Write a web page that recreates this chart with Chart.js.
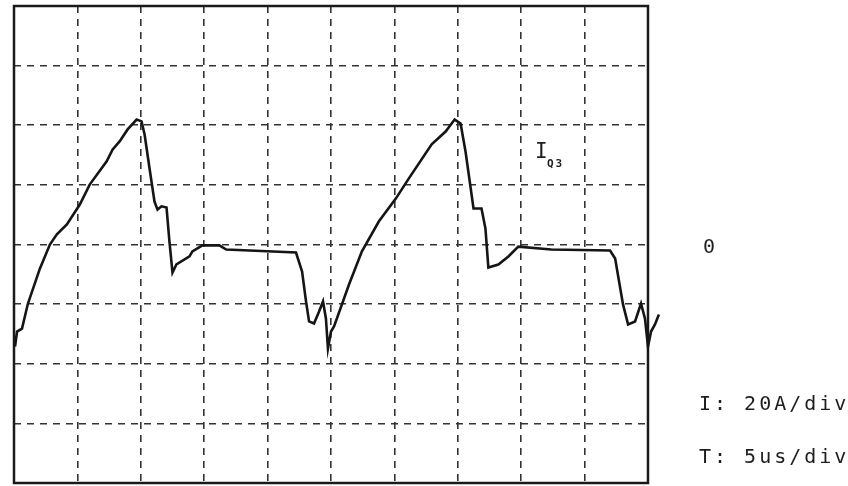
<!DOCTYPE html>
<html>
<head>
<meta charset="utf-8">
<script src="https://cdn.jsdelivr.net/npm/chart.js@4.4.0/dist/chart.umd.min.js"></script>
<style>
  body { margin: 0; background: #fff; }
  #wrap { position: relative; width: 848px; height: 486px; }
  .lbl { position: absolute; color: #1e1e1e; font-family: "DejaVu Sans Mono", monospace; white-space: nowrap; line-height: 1; }
</style>
</head>
<body>
<div id="wrap">
  <canvas id="scope" width="848" height="486"></canvas>
  <div class="lbl" style="left:535px; top:141px; font-size:21px;">I</div>
  <div class="lbl" style="left:547px; top:158px; font-size:11px; font-weight:bold; letter-spacing:2px;">Q3</div>
  <div class="lbl" style="left:703px; top:236px; font-size:20px;">0</div>
  <div class="lbl" style="left:699px; top:393px; font-size:20px; letter-spacing:3px;">I: 20A/div</div>
  <div class="lbl" style="left:699px; top:446px; font-size:20px; letter-spacing:3px;">T: 5us/div</div>
</div>
<script>
// time in us (5us/div), current in A (20A/div)
const timeUs = [0.08, 0.24, 0.63, 1.10, 2.04, 2.83, 3.38, 4.17, 5.19, 5.97, 7.31, 7.78, 8.33, 8.96, 9.67,
  10.06, 10.30, 10.69, 11.08, 11.32, 11.63, 12.03, 12.26, 12.50, 12.81, 13.84, 14.07, 14.86, 16.19, 16.74,
  22.24, 22.72, 23.03, 23.27, 23.66, 24.06, 24.37, 24.60, 24.76, 25.00, 25.24, 26.42, 27.44, 28.77, 30.11,
  31.13, 32.94, 34.04, 34.75, 35.22, 35.61, 36.24, 36.87, 37.18, 37.41, 38.20, 38.99, 39.77, 42.37, 47.01,
  47.41, 48.03, 48.43, 48.98, 49.45, 49.76, 50.00, 50.24, 50.55, 50.86];
const currentA = [-34.2, -29.2, -28.2, -19.8, -8.1, 0, 3.4, 6.7, 13.4, 20.1, 27.9, 31.9, 34.6, 38.6, 41.9,
  41.3, 36.9, 25.5, 14.4, 11.7, 12.8, 12.4, 1.0, -9.4, -6.7, -4.0, -2.3, -0.3, -0.3, -1.7,
  -2.7, -9.1, -19.1, -25.8, -26.5, -22.5, -19.1, -24.8, -34.9, -29.2, -27.5, -13.4, -2.3, 7.7, 15.4,
  22.1, 33.6, 37.9, 41.9, 40.6, 31.2, 12.1, 12.1, 5.4, -7.7, -6.7, -4.0, -0.7, -1.7, -2.0,
  -4.7, -20.1, -26.8, -25.8, -19.8, -24.8, -34.2, -29.2, -26.8, -23.5];

const xTicks = [0, 5, 10, 15, 20, 25, 30, 35, 40, 45, 50];
const yTicks = [-80, -60, -40, -20, 0, 20, 40, 60, 80];

const points = timeUs.map((t, i) => ({ x: t, y: currentA[i] }));

// graticule frame: the trace runs a little past the last division,
// so wipe the grid overhang and box the 10 x 8 divisions
const frame = {
  id: 'frame',
  beforeDatasetsDraw(chart) {
    const { ctx, chartArea: a, scales } = chart;
    const right = scales.x.getPixelForValue(xTicks[xTicks.length - 1]);
    ctx.save();
    ctx.fillStyle = '#fff';
    ctx.fillRect(right + 1, a.top - 2, a.right - right + 2, a.bottom - a.top + 4);
    ctx.strokeStyle = '#1a1a1a';
    ctx.lineWidth = 2.5;
    ctx.strokeRect(a.left, a.top, right - a.left, a.bottom - a.top);
    ctx.restore();
  }
};

new Chart(document.getElementById('scope'), {
  type: 'line',
  data: {
    datasets: [{
      data: points,
      borderColor: '#151515',
      borderWidth: 2.6,
      pointRadius: 0,
      tension: 0,
      clip: false
    }]
  },
  options: {
    responsive: false,
    animation: false,
    layout: { padding: { left: 14, top: 6, right: 188.6, bottom: 3 } },
    plugins: { legend: { display: false }, tooltip: { enabled: false } },
    scales: {
      x: {
        type: 'linear', min: 0, max: 50.9,
        afterBuildTicks: s => { s.ticks = xTicks.map(v => ({ value: v })); },
        ticks: { display: false },
        grid: { color: '#333', lineWidth: 1.6, drawTicks: false },
        border: { display: false, dash: [7, 6] }
      },
      y: {
        min: -80, max: 80,
        afterBuildTicks: s => { s.ticks = yTicks.map(v => ({ value: v })); },
        ticks: { display: false },
        grid: { color: '#333', lineWidth: 1.6, drawTicks: false },
        border: { display: false, dash: [7, 6] }
      }
    }
  },
  plugins: [frame]
});
</script>
</body>
</html>
